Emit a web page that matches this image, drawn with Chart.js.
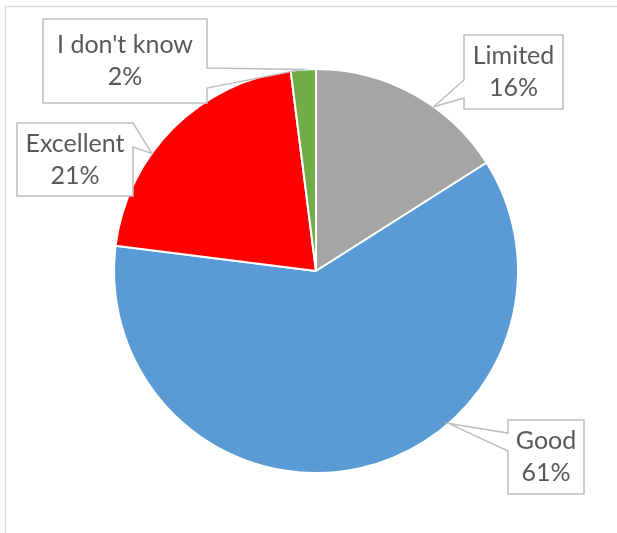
<!DOCTYPE html>
<html lang="en">
<head>
    <meta charset="UTF-8">
    <title>Rating</title>
    <script src="https://cdn.jsdelivr.net/npm/chart.js"></script>
    <style>
        html, body { margin: 0; padding: 0; background: #fff; }
        #wrap { width: 617px; height: 533px; position: relative; }
    </style>
</head>
<body>
<div id="wrap"><canvas id="ratingChart" width="617" height="533"></canvas></div>
<script>
    // answers, in percent
    const categories = ['Limited', 'Good', 'Excellent', "I don't know"];
    const percents = [16, 61, 21, 2];
    const sliceColors = ['#A5A5A5', '#5B9BD5', '#FF0000', '#70AD47'];

    // callout boxes: box rect, side of the notch, notch span and where the pointer meets the pie
    const callouts = [
        { x: 464, y: 35, w: 99, h: 74, side: 'left', y0: 80, y1: 98, tipAngle: 35.6 },
        { x: 508, y: 420, w: 76, h: 74, side: 'left', y0: 433, y1: 451, tipAngle: 139 },
        { x: 17, y: 123, w: 116, h: 73, side: 'right', y0: 123, y1: 147, tipAngle: 305.6 },
        { x: 43, y: 19, w: 164, h: 84, side: 'right', y0: 68, y1: 88, tipAngle: 356 }
    ];

    const calloutPlugin = {
        id: 'callouts',
        afterDraw(chart) {
            const ctx = chart.ctx;
            const arcs = chart.getDatasetMeta(0).data;
            ctx.save();

            // chart frame
            ctx.strokeStyle = '#D9D9D9';
            ctx.lineWidth = 1.5;
            ctx.beginPath();
            ctx.moveTo(5.5, 533);
            ctx.lineTo(5.5, 6.5);
            ctx.lineTo(617, 6.5);
            ctx.stroke();

            callouts.forEach((c, i) => {
                const arc = arcs[i];
                const a = (c.tipAngle - 90) * Math.PI / 180;
                const tx = arc.x + Math.cos(a) * arc.outerRadius;
                const ty = arc.y + Math.sin(a) * arc.outerRadius;
                const r = c.x + c.w, b = c.y + c.h;

                ctx.beginPath();
                if (c.side === 'right') {
                    ctx.moveTo(c.x, c.y);
                    ctx.lineTo(r, c.y);
                    ctx.lineTo(r, c.y0);
                    ctx.lineTo(tx, ty);
                    ctx.lineTo(r, c.y1);
                    ctx.lineTo(r, b);
                    ctx.lineTo(c.x, b);
                } else {
                    ctx.moveTo(c.x, c.y);
                    ctx.lineTo(r, c.y);
                    ctx.lineTo(r, b);
                    ctx.lineTo(c.x, b);
                    ctx.lineTo(c.x, c.y1);
                    ctx.lineTo(tx, ty);
                    ctx.lineTo(c.x, c.y0);
                }
                ctx.closePath();
                ctx.fillStyle = '#FFFFFF';
                ctx.fill();
                ctx.strokeStyle = '#BFBFBF';
                ctx.lineWidth = 1.5;
                ctx.lineJoin = 'miter';
                ctx.stroke();

                ctx.fillStyle = '#595959';
                ctx.font = '25px Lato, "Liberation Sans", sans-serif';
                ctx.textAlign = 'center';
                ctx.textBaseline = 'middle';
                const cx = c.x + c.w / 2, cy = c.y + c.h / 2;
                ctx.fillText(categories[i], cx, cy - 16);
                ctx.fillText(percents[i] + '%', cx, cy + 16);
            });
            ctx.restore();
        }
    };

    const ctx = document.getElementById('ratingChart').getContext('2d');
    new Chart(ctx, {
        type: 'pie',
        data: {
            labels: categories,
            datasets: [{
                data: percents,
                backgroundColor: sliceColors,
                borderColor: '#FFFFFF',
                borderWidth: 2,
                hoverOffset: 0
            }]
        },
        options: {
            responsive: false,
            animation: false,
            layout: { padding: { left: 15, right: 0, top: 68, bottom: 59 } },
            plugins: {
                legend: { display: false },
                tooltip: { enabled: false }
            }
        },
        plugins: [calloutPlugin]
    });
</script>
</body>
</html>
